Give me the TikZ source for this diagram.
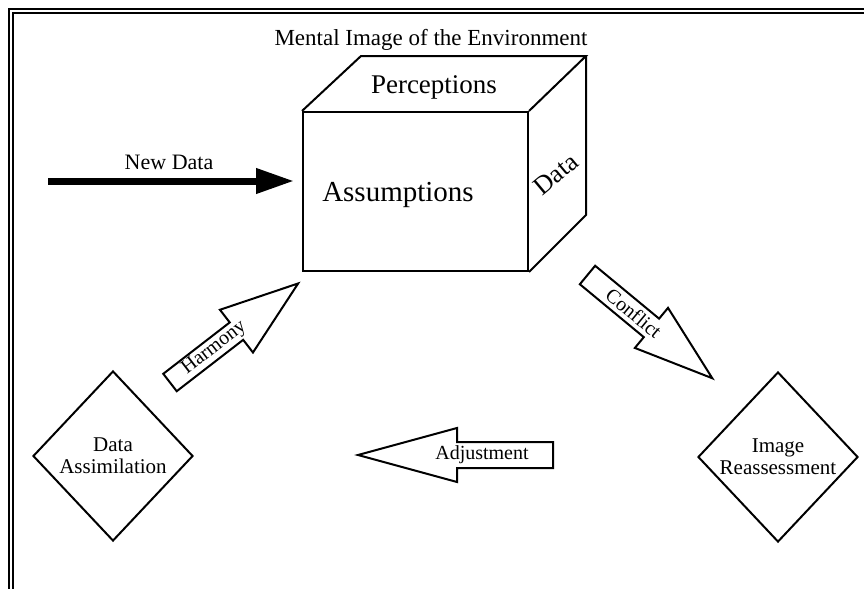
\documentclass[tikz,border=0pt]{standalone}
\usepackage{fontspec}
\setmainfont{Liberation Serif}
\usetikzlibrary{shapes.geometric,arrows.meta}

\tikzset{
  blockarr/.style={draw, fill=white, line join=miter},
  decision/.style={diamond, draw, inner sep=-4pt, minimum width=80pt,
    minimum height=85pt, align=center, font=\fontsize{10.5}{11}\selectfont},
  lbl/.style={font=\fontsize{10}{12}\selectfont, inner sep=0pt}
}

\begin{document}
\begin{tikzpicture}[x=0.5pt, y=-0.5pt, line width=1pt]
    \useasboundingbox (0,0) rectangle (864,589);
    % double frame, cut off at right and bottom
    \draw (9,589) -- (9,9) -- (864,9);
    \draw (13,589) -- (13,13) -- (864,13);

    \node (title) at (431,40) {\fontsize{11.5}{13}\selectfont Mental Image of the Environment};

    % the cube
    \node[draw, minimum width=112.5pt, minimum height=79.5pt, inner sep=0pt] (front) at (415.5,191.5) {};
    \draw (front.north west) -- ++(59,-55) -- ++(225,0) coordinate (backtr) -- (front.north east);
    \draw (backtr) -- ++(0,159) -- (front.south east);
    \node (percep) at (434,87) {\fontsize{13.5}{15}\selectfont Perceptions};
    \node (assump) at (398,195) {\fontsize{14.5}{16}\selectfont Assumptions};
    \node[rotate=40, inner sep=0pt] (data) at (556,174) {\fontsize{13}{15}\selectfont Data};

    % new data arrow
    \coordinate (ndstart) at (48,181);
    \draw[line width=3.5pt, shorten >=4pt, -{Triangle[length=19pt,width=12pt]}] (ndstart) -- (front.west |- ndstart);
    \node (newdata) at (169,162) {\fontsize{11}{13}\selectfont New Data};

    % harmony
    \begin{scope}[shift={(170,382.5)}, rotate=37.7]
        \draw[blockarr] (0,-11) -- (84,-11) -- (84,-27) -- (162,0) -- (84,27) -- (84,11) -- (0,11) -- cycle;
        \node[lbl, rotate=37.7] (harmony) at (56,0) {Harmony};
    \end{scope}

    % conflict
    \begin{scope}[shift={(587.5,275)}, rotate=-39.6]
        \draw[blockarr] (0,-12) -- (83,-12) -- (83,-26) -- (162,0) -- (83,26) -- (83,12) -- (0,12) -- cycle;
        \node[lbl, rotate=-39.6] (conflict) at (60,0) {Conflict};
    \end{scope}

    % adjustment
    \draw[blockarr] (553,442) -- (457,442) -- (457,428) -- (358,455) -- (457,482) -- (457,468) -- (553,468) -- cycle;
    \node[lbl] (adjust) at (482,455) {Adjustment};

    \node[decision] (assim) at (113,456) {Data\\Assimilation};
    \node[decision] (reassess) at (778,457) {Image\\Reassessment};

\end{tikzpicture}
\end{document}
